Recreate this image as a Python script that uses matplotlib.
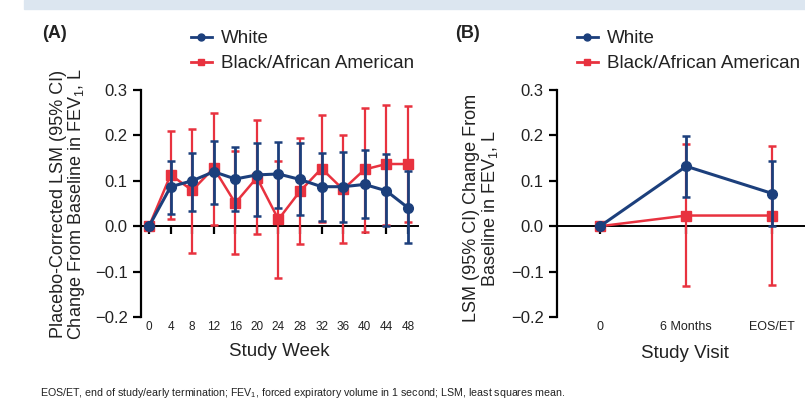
import matplotlib
matplotlib.use('Agg')
import matplotlib.pyplot as plt
from matplotlib.patches import Rectangle
from matplotlib.lines import Line2D

plt.rcParams['font.family'] = ['Liberation Sans', 'DejaVu Sans']
plt.rcParams['mathtext.fontset'] = 'custom'
plt.rcParams['mathtext.rm'] = 'Liberation Sans'
plt.rcParams['mathtext.it'] = 'Liberation Sans'

# panel A: by study week
weeks = [0, 4, 8, 12, 16, 20, 24, 28, 32, 36, 40, 44, 48]
white_a = [0, 0.087, 0.100, 0.120, 0.104, 0.113, 0.115, 0.103, 0.087, 0.087, 0.092, 0.078, 0.041]
white_a_lo = [0, 0.026, 0.034, 0.048, 0.034, 0.023, 0.041, 0.025, 0.012, 0.010, 0.019, 0.000, -0.038]
white_a_hi = [0, 0.144, 0.161, 0.188, 0.174, 0.184, 0.186, 0.184, 0.161, 0.163, 0.168, 0.159, 0.122]
black_a = [0, 0.113, 0.079, 0.128, 0.051, 0.107, 0.015, 0.077, 0.127, 0.081, 0.125, 0.137, 0.137]
black_a_lo = [0, 0.015, -0.058, 0.003, -0.062, -0.018, -0.115, -0.040, 0.010, -0.038, -0.012, 0.003, 0.009]
black_a_hi = [0, 0.210, 0.214, 0.249, 0.166, 0.234, 0.143, 0.194, 0.246, 0.201, 0.260, 0.268, 0.265]

# panel B: by study visit
visits = ['0', '6 Months', 'EOS/ET']
white_b = [0, 0.132, 0.072]
white_b_lo = [0, 0.065, 0.000]
white_b_hi = [0, 0.199, 0.143]
black_b = [0, 0.0235, 0.0235]
black_b_lo = [0, -0.132, -0.130]
black_b_hi = [0, 0.182, 0.176]

blue = '#1c3f7c'
red = '#e8323f'

fig = plt.figure(figsize=(8.05, 4.05), dpi=100)
fig.patches.append(Rectangle((24 / 805, 1 - 9 / 405), 1, 9 / 405,
                             transform=fig.transFigure, color='#dce6f0', zorder=0))

W, H = 805, 405


def make_ax(left, right):
    return fig.add_axes([left / W, (H - 317) / H, (right - left) / W, 227 / H])


def errs(v, lo, hi):
    return [[a - b for a, b in zip(v, lo)], [b - a for a, b in zip(v, hi)]]


def style(ax, xtick_size):
    ax.set_ylim(-0.2, 0.3)
    ax.set_yticks([-0.2, -0.1, 0.0, 0.1, 0.2, 0.3])
    ax.set_yticklabels(['\u22120.2', '\u22120.1', '0.0', '0.1', '0.2', '0.3'], fontsize=12, color='#222222')
    for s in ['top', 'right']:
        ax.spines[s].set_visible(False)
    ax.spines['bottom'].set_position(('data', 0))
    ax.spines['left'].set_linewidth(1.6)
    ax.spines['bottom'].set_linewidth(1.4)
    ax.spines['left'].set_bounds(-0.2, 0.3)
    ax.tick_params(axis='y', direction='out', length=6, width=1.6)
    ax.tick_params(axis='x', direction='out', length=6, width=1.6, pad=62,
                   labelsize=xtick_size, labelcolor='#222222')
    ax.set_facecolor('none')


def draw(ax, x, wv, wlo, whi, bv, blo, bhi):
    ax.errorbar(x, bv, yerr=errs(bv, blo, bhi), color=red, lw=1.8, marker='s', ms=7,
                capsize=3, capthick=1.8, elinewidth=1.6, zorder=3)
    ax.errorbar(x, wv, yerr=errs(wv, wlo, whi), color=blue, lw=2.2, marker='o', ms=7,
                capsize=3, capthick=1.8, elinewidth=2.0, zorder=4)


# (A)
ax1 = make_ax(141, 418)
draw(ax1, weeks, white_a, white_a_lo, white_a_hi, black_a, black_a_lo, black_a_hi)
style(ax1, 8.5)
ax1.set_xlim(-1.5, 49.9)
ax1.set_xticks(weeks)
ax1.set_xlabel('Study Week', fontsize=13.5, labelpad=7.5, color='#222222')
ax1.set_ylabel('Placebo-Corrected LSM (95% CI)\nChange From Baseline in FEV$_1$, L', fontsize=13,
               linespacing=0.92, color='#222222')
ax1.yaxis.set_label_coords(-0.195, 0.5)

# (B)
ax2 = make_ax(557, 812)
draw(ax2, range(len(visits)), white_b, white_b_lo, white_b_hi, black_b, black_b_lo, black_b_hi)
style(ax2, 9)
ax2.set_xlim(-0.5, 2.46)
ax2.set_xticks(range(len(visits)))
ax2.set_xticklabels(visits)
ax2.set_xlabel('Study Visit', fontsize=13.5, labelpad=9, color='#222222')
ax2.set_ylabel('LSM (95% CI) Change From\nBaseline in FEV$_1$, L', fontsize=13, linespacing=0.95,
               color='#222222')
ax2.yaxis.set_label_coords(-0.225, 0.48)

handles = [Line2D([], [], color=blue, lw=2, marker='o', ms=5),
           Line2D([], [], color=red, lw=2, marker='s', ms=5)]
labels = ['White', 'Black/African American']
for ax, lx in [(ax1, 191), (ax2, 577)]:
    ax.legend(handles, labels, loc='upper left', bbox_to_anchor=(lx / W, 1 - 30 / H),
              bbox_transform=fig.transFigure, frameon=False, fontsize=13.5,
              handlelength=1.1, handletextpad=0.5, labelspacing=0.42, borderaxespad=0,
              borderpad=0, labelcolor='#222222')

fig.text(42 / W, 1 - 33 / H, '(A)', fontsize=13, fontweight='bold', va='center', color='#222222')
fig.text(455 / W, 1 - 33 / H, '(B)', fontsize=13, fontweight='bold', va='center', color='#222222')
fig.text(40 / W, 1 - 393 / H,
         'EOS/ET, end of study/early termination; FEV$_1$, forced expiratory volume in 1 second; '
         'LSM, least squares mean.', fontsize=7.65, va='center', color='#222222')

fig.savefig('out.png', dpi=100)
